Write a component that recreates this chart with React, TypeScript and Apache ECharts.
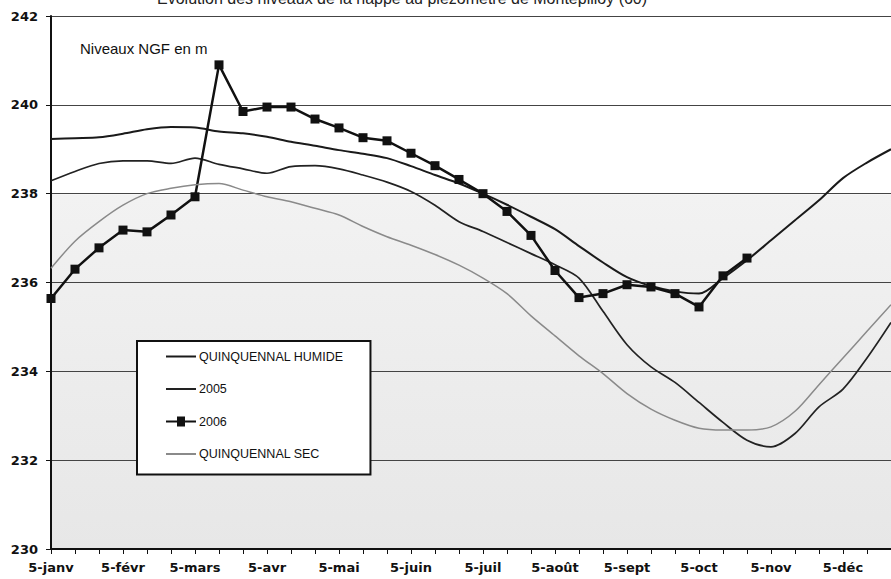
import React, { useEffect, useRef } from "react";
import * as echarts from "echarts";

const MONTHS = ["janv", "févr", "mars", "avr", "mai", "juin", "juil", "août", "sept", "oct", "nov", "déc"];
const DAYS = [5, 15, 25];
const categories: string[] = [];
MONTHS.forEach((m) => DAYS.forEach((d) => categories.push(`${d}-${m}`)));

const yTicks = [230, 232, 234, 236, 238, 240, 242];

const quinquennalHumide = [
  239.23, 239.25, 239.27, 239.35, 239.45, 239.5, 239.49, 239.4, 239.36, 239.28, 239.17, 239.08,
  238.98, 238.9, 238.8, 238.62, 238.42, 238.23, 238.0, 237.75, 237.48, 237.2, 236.82, 236.45,
  236.12, 235.92, 235.8, 235.75, 236.1, 236.5, 236.95, 237.4, 237.85, 238.35, 238.7, 239.0,
];

const annee2005 = [
  238.29, 238.5, 238.68, 238.74, 238.74, 238.68, 238.8, 238.66, 238.56, 238.46, 238.61, 238.63,
  238.56, 238.42, 238.26, 238.05, 237.74, 237.37, 237.15, 236.9, 236.65, 236.4, 236.1, 235.35,
  234.6, 234.1, 233.75, 233.3, 232.85, 232.45, 232.3, 232.6, 233.2, 233.6, 234.3, 235.1,
];

const annee2006 = [
  235.64, 236.3, 236.78, 237.18, 237.14, 237.52, 237.93, 240.9, 239.85, 239.95, 239.95, 239.68,
  239.48, 239.26, 239.19, 238.91, 238.63, 238.32, 238.0, 237.6, 237.06, 236.27, 235.66, 235.75,
  235.95, 235.9, 235.75, 235.45, 236.15, 236.55,
];

const quinquennalSec = [
  236.32, 236.93, 237.37, 237.74, 238.0, 238.12, 238.2, 238.23, 238.08, 237.93, 237.82, 237.67,
  237.52, 237.26, 237.03, 236.84, 236.63, 236.39, 236.1, 235.75, 235.25, 234.8, 234.35, 233.95,
  233.5, 233.15, 232.9, 232.72, 232.68, 232.68, 232.75, 233.1, 233.7, 234.3, 234.9, 235.5,
];

const TITLE = "Evolution des niveaux de la nappe au piézomètre de Montépilloy (60)";
const UNIT_NOTE = "Niveaux NGF en m";
const FONT = "'Liberation Sans', Arial, sans-serif";
const AXIS_FONT = "'DejaVu Sans', 'Liberation Sans', sans-serif";

const LINE_ICON = "path://M0,0L30,0L30,2L0,2Z";
const LINE_SQUARE_ICON =
  "path://M0,4L11,4L11,0L19,0L19,4L30,4L30,6L19,6L19,10L11,10L11,6L0,6Z";

export default function App() {
  const ref = useRef<HTMLDivElement>(null);

  useEffect(() => {
    if (!ref.current) return;
    const chart = echarts.init(ref.current, undefined, { renderer: "svg" });
    const option = {
      animation: false,
      backgroundColor: "#ffffff",
      textStyle: { fontFamily: FONT },
      graphic: [
        {
          type: "text",
          left: 157,
          top: -10,
          style: { text: TITLE, font: `16px ${FONT}`, fill: "#222" },
        },
        {
          type: "text",
          left: 80,
          top: 41,
          style: { text: UNIT_NOTE, font: `15px ${FONT}`, fill: "#111" },
        },
      ],
      grid: {
        left: 51,
        right: -7,
        top: 16,
        bottom: 30,
        show: true,
        borderWidth: 0,
        backgroundColor: new echarts.graphic.LinearGradient(0, 0, 0, 1, [
          { offset: 0, color: "#ffffff" },
          { offset: 0.333, color: "#ffffff" },
          { offset: 0.336, color: "#f2f2f2" },
          { offset: 1, color: "#e7e7e7" },
        ]),
      },
      legend: {
        orient: "vertical",
        left: 137,
        top: 341,
        data: [
          { name: "QUINQUENNAL HUMIDE", icon: LINE_ICON },
          { name: "2005", icon: LINE_ICON },
          { name: "2006", icon: LINE_SQUARE_ICON },
          { name: "QUINQUENNAL SEC", icon: LINE_ICON },
        ],
        borderColor: "#111",
        borderWidth: 2,
        backgroundColor: "#ffffff",
        padding: [9, 27, 14, 29],
        itemWidth: 30,
        itemHeight: 14,
        itemGap: 19.5,
        textStyle: { fontSize: 12.5, color: "#111", fontFamily: FONT, padding: [0, 0, 0, -2] },
      },
      xAxis: {
        type: "category",
        data: categories,
        boundaryGap: false,
        axisLine: { lineStyle: { color: "#111", width: 2 } },
        axisTick: { interval: 0, length: 5, lineStyle: { color: "#111", width: 1 } },
        axisLabel: {
          interval: 2,
          fontSize: 13,
          fontWeight: "bold",
          color: "#111",
          margin: 12,
          fontFamily: AXIS_FONT,
        },
        splitLine: { show: false },
      },
      yAxis: {
        type: "value",
        min: yTicks[0],
        max: yTicks[yTicks.length - 1],
        interval: 2,
        axisLine: { show: true, lineStyle: { color: "#111", width: 2 } },
        axisTick: { show: true, length: 5, lineStyle: { color: "#111" } },
        axisLabel: {
          fontSize: 13,
          fontWeight: "bold",
          color: "#111",
          margin: 13,
          fontFamily: AXIS_FONT,
        },
        splitLine: { lineStyle: { color: "#444", width: 1 } },
      },
      series: [
        {
          name: "QUINQUENNAL HUMIDE",
          type: "line",
          data: quinquennalHumide,
          symbol: "none",
          smooth: 0.3,
          lineStyle: { color: "#1a1a1a", width: 2 },
          itemStyle: { color: "#1a1a1a" },
        },
        {
          name: "2005",
          type: "line",
          data: annee2005,
          symbol: "none",
          smooth: 0.3,
          lineStyle: { color: "#222", width: 1.7 },
          itemStyle: { color: "#222" },
        },
        {
          name: "2006",
          type: "line",
          data: annee2006,
          symbol: "rect",
          symbolSize: 9,
          lineStyle: { color: "#111", width: 2.5 },
          itemStyle: { color: "#111" },
        },
        {
          name: "QUINQUENNAL SEC",
          type: "line",
          data: quinquennalSec,
          symbol: "none",
          smooth: 0.3,
          lineStyle: { color: "#8a8a8a", width: 1.5 },
          itemStyle: { color: "#8a8a8a" },
        },
      ],
    };
    chart.setOption(option as any);
    return () => chart.dispose();
  }, []);

  return (
    <div
      ref={ref}
      style={{ position: "absolute", left: 0, top: 0, width: 891, height: 579 }}
    />
  );
}
